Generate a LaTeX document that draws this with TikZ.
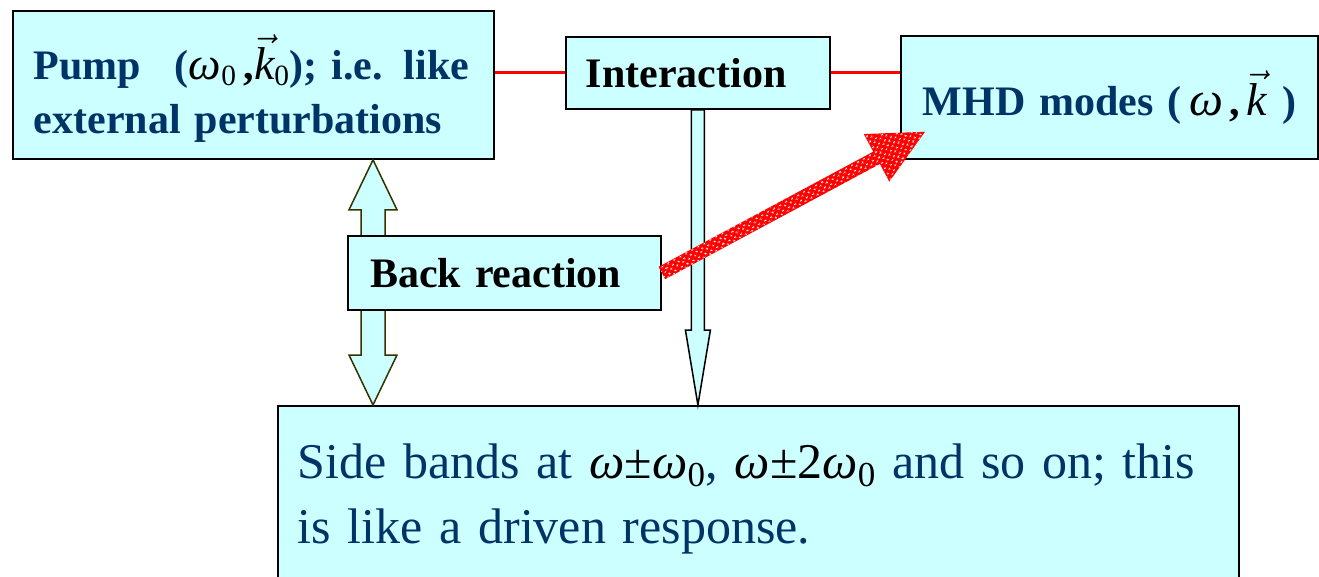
\documentclass[tikz,border=0pt]{standalone}
\usepackage{fix-cm}
\usepackage{fontspec}
\setmainfont{Liberation Serif}
\usetikzlibrary{positioning, calc, patterns.meta}
\definecolor{boxFill}{HTML}{CCFFFF}
\definecolor{textBlue}{HTML}{003366}
\definecolor{arrowEdge}{HTML}{333300}

% symbols in black, upright text stays blue
\newcommand{\om}{{\normalfont\itshape\color{black}ω}}
\newcommand{\kv}{{\color{black}$\vec{\mbox{\normalfont\itshape k}}$}}
\newcommand{\zero}{{\normalfont\color{black}\textsubscript{0}}}

\tikzdeclarepattern{
  name=whitedots,
  type=uncolored,
  bottom left={(0pt,0pt)},
  top right={(7pt,6pt)},
  tile size={(7pt,6pt)},
  tile transformation={rotate=29},
  code={
    \fill (1.75pt,1.5pt) ellipse (1.4pt and 1pt);
    \fill (5.25pt,4.5pt) ellipse (1.4pt and 1pt);
  }
}

\begin{document}
\begin{tikzpicture}[x=1pt, y=-1pt,
  box/.style={draw=black, line width=1.8pt, fill=boxFill, rectangle, align=left, inner ysep=0pt},
  titletext/.style={font=\fontsize{42}{54}\selectfont\bfseries},
  redline/.style={draw=red, line width=3pt},
  blockarrow/.style={fill=boxFill, line width=1.5pt, line join=miter},
  redarrow/.style={preaction={fill=red}, pattern={whitedots}, pattern color=white}
]
  \useasboundingbox (0,0) rectangle (1319,576);

  % boxes
  \node[box, titletext, text=textBlue, text width=439pt, inner xsep=21pt, minimum height=148pt, anchor=north west] (pump) at (12,10)
    {\mbox{\rule{0pt}{52pt}Pump\hspace{0.8em}({\fontsize{46}{46}\selectfont\om}\zero{\color{black}\,,}{\fontsize{46}{46}\selectfont\kv}\zero); i.e. like}\\external perturbations};
  \node[box, titletext, text width=224pt, inner xsep=20pt, minimum height=72pt, anchor=north west] (interaction) at (565,36) {Interaction};
  \node[box, titletext, text=textBlue, text width=373pt, inner xsep=22pt, minimum height=123pt, anchor=north west] (mhd) at (900,35)
    {\mbox{MHD modes (\hspace{8pt}{\fontsize{48}{48}\selectfont\om}\hspace{6pt}{\color{black},}\hspace{6pt}{\fontsize{46}{46}\selectfont\kv}\hspace{16pt})}};
  \node[box, text=textBlue, font=\fontsize{50}{65}\selectfont, text width=921pt, inner xsep=20pt, inner ysep=38pt, anchor=north west] (side) at (277,405)
    {\mbox{Side bands at {\color{black}\om±\om\zero}, {\color{black}\om±2\om\zero}{} and so on; this}\\is like a driven response.};

  % red links
  \draw[redline] (interaction.west) -- (interaction.west -| pump.east);
  \draw[redline] (interaction.east) -- (interaction.east -| mhd.west);

  % double block arrow
  \coordinate (dtop) at ($(pump.south west)+(361,0)$);
  \coordinate (dbot) at (dtop |- side.north);
  \draw[blockarrow, draw=arrowEdge] (dtop) -- ++(24,50) -- ++(-12,0) -- ($(dbot)+(12,-50)$) -- ++(12,0) -- (dbot)
    -- ++(-24,-50) -- ++(12,0) -- ($(dtop)+(-12,50)$) -- ++(-12,0) -- cycle;

  % single block arrow
  \coordinate (stop) at (interaction.south);
  \coordinate (sbot) at (stop |- side.north);
  \draw[blockarrow, draw=black] ($(stop)+(-6.5,0)$) -- ($(sbot)+(-6.5,-75)$) -- ++(-6,0) -- (sbot) -- ++(12.5,-75)
    -- ++(-6,0) -- ($(stop)+(6.5,0)$) -- cycle;

  \node[box, titletext, text width=269pt, inner xsep=22pt, minimum height=74pt] (back) at (504.5,273) {Back reaction};

  % patterned arrow
  \coordinate (tip) at ($(mhd.south west)+(25,-28)$);
  \coordinate (tail) at (back.east);
  \coordinate (head) at ($(tip)!55pt!(tail)$);
  \path[redarrow] ($(tail)!7pt!90:(tip)$) -- ($(head)!7pt!90:(tip)$) -- ($(head)!27pt!90:(tip)$) -- (tip)
    -- ($(head)!27pt!-90:(tip)$) -- ($(head)!7pt!-90:(tip)$) -- ($(tail)!7pt!-90:(tip)$) -- cycle;
\end{tikzpicture}
\end{document}
